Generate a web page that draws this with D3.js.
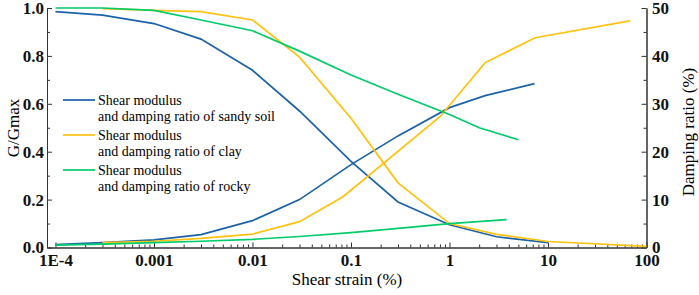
<!DOCTYPE html>
<html>
<head>
<meta charset="utf-8">
<script src="https://cdn.jsdelivr.net/npm/d3@7"></script>
<style>
  body { margin: 0; background: #fff; }
  svg { display: block; }
  .tick text { font-family: "Liberation Serif", "DejaVu Serif", serif; font-weight: bold; font-size: 17px; fill: #111; }
  .axis path, .axis line { stroke: #333; stroke-width: 1px; }
</style>
</head>
<body>
<div class="box"></div>
<script>
// strain values (%) and readings for each curve
const sandyStrainG = [1e-4, 3e-4, 1e-3, 3e-3, 1e-2, 3e-2, 0.1, 0.3, 1, 3, 10];
const sandyG = [0.985, 0.97, 0.935, 0.87, 0.74, 0.57, 0.36, 0.19, 0.095, 0.045, 0.02];
const sandyStrainD = [1e-4, 3e-4, 1e-3, 3e-3, 1e-2, 3e-2, 0.1, 0.3, 1, 2.3, 7.3];
const sandyD = [0.6, 1.0, 1.6, 2.7, 5.6, 10, 17.3, 23.3, 29.2, 31.7, 34.2];

const clayStrainG = [3e-4, 1e-3, 3e-3, 1e-2, 3e-2, 0.1, 0.3, 1, 3, 10, 100];
const clayG = [0.997, 0.99, 0.985, 0.95, 0.795, 0.54, 0.27, 0.1, 0.055, 0.025, 0.005];
const clayStrainD = [3e-4, 1e-3, 3e-3, 1e-2, 3e-2, 0.083, 0.8, 2.3, 7.4, 68];
const clayD = [1.0, 1.3, 1.9, 2.8, 5.4, 10.6, 27.3, 38.6, 43.8, 47.3];

const rockStrainG = [1e-4, 3e-4, 1e-3, 3e-3, 1e-2, 3e-2, 0.1, 0.3, 1, 2, 5];
const rockG = [1.0, 1.0, 0.99, 0.95, 0.905, 0.82, 0.72, 0.64, 0.555, 0.5, 0.45];
const rockStrainD = [1e-4, 3e-4, 1e-3, 3e-3, 1e-2, 3e-2, 0.1, 0.3, 1, 3.8];
const rockD = [0.5, 0.7, 1.0, 1.3, 1.7, 2.3, 3.1, 4.0, 5.0, 5.8];

const xMajor = [1e-4, 1e-3, 1e-2, 0.1, 1, 10, 100];
const xLabels = ["1E-4", "0.001", "0.01", "0.1", "1", "10", "100"];
const gTicks = [0, 0.2, 0.4, 0.6, 0.8, 1.0];
const dTicks = [0, 10, 20, 30, 40, 50];

const legendNames = ["sandy soil", "clay", "rocky"];
const colors = ["#1b62a8", "#ffc20e", "#00cc6a"];

// Plot box
const w = 699, h = 295;
const padLeft = 47, padRight = 646.5, padTop = 8, padBottom = 247.5;

const svg = d3.select(".box").append("svg")
  .attr("width", w)
  .attr("height", h);

const x = d3.scaleLog().domain([8.2e-5, 100]).range([padLeft, padRight]);
const yG = d3.scaleLinear().domain([0, 1]).range([padBottom, padTop]);
const yD = d3.scaleLinear().domain([0, 50]).range([padBottom, padTop]);

// minor ticks
const xMinor = [];
for (let e = -4; e < 2; e++) {
  for (let m = 2; m <= 9; m++) xMinor.push(m * Math.pow(10, e));
}
const gMinor = d3.range(0.1, 1, 0.2);
const dMinor = d3.range(5, 50, 10);

// AXES
svg.append("g").attr("class", "axis")
  .attr("transform", "translate(0," + padBottom + ")")
  .call(d3.axisBottom(x).tickValues(xMinor).tickSize(-3).tickSizeOuter(0).tickFormat(""));
svg.append("g").attr("class", "axis")
  .attr("transform", "translate(0," + padBottom + ")")
  .call(d3.axisBottom(x).tickValues(xMajor).tickSize(-5).tickSizeOuter(0).tickPadding(6)
    .tickFormat((d, i) => xLabels[i]));

svg.append("g").attr("class", "axis")
  .attr("transform", "translate(" + padLeft + ",0)")
  .call(d3.axisLeft(yG).tickValues(gMinor).tickSize(-3).tickSizeOuter(0).tickFormat(""));
svg.append("g").attr("class", "axis")
  .attr("transform", "translate(" + padLeft + ",0)")
  .call(d3.axisLeft(yG).tickValues(gTicks).tickSize(-5).tickSizeOuter(0).tickPadding(3)
    .tickFormat(d3.format(".1f")));

svg.append("g").attr("class", "axis")
  .attr("transform", "translate(" + padRight + ",0)")
  .call(d3.axisRight(yD).tickValues(dMinor).tickSize(-3).tickSizeOuter(0).tickFormat(""));
svg.append("g").attr("class", "axis")
  .attr("transform", "translate(" + padRight + ",0)")
  .call(d3.axisRight(yD).tickValues(dTicks).tickSize(-5).tickSizeOuter(0).tickPadding(5.5)
    .tickFormat(d3.format("d")));

// AXIS TITLES
const serif = '"Liberation Serif", "DejaVu Serif", serif';
svg.append("text")
  .attr("x", 347).attr("y", 285)
  .attr("text-anchor", "middle")
  .style("font-family", serif).style("font-size", "17px")
  .text("Shear strain (%)");

svg.append("text")
  .attr("transform", "translate(19,128) rotate(-90)")
  .attr("text-anchor", "middle")
  .style("font-family", serif).style("font-size", "17px")
  .text("G/Gmax");

svg.append("text")
  .attr("transform", "translate(694,132) rotate(-90)")
  .attr("text-anchor", "middle")
  .style("font-family", serif).style("font-size", "17px")
  .text("Damping ratio (%)");

// CURVES
const series = [
  { xs: sandyStrainG, ys: sandyG, s: yG, c: 0 },
  { xs: sandyStrainD, ys: sandyD, s: yD, c: 0 },
  { xs: clayStrainG, ys: clayG, s: yG, c: 1 },
  { xs: clayStrainD, ys: clayD, s: yD, c: 1 },
  { xs: rockStrainG, ys: rockG, s: yG, c: 2 },
  { xs: rockStrainD, ys: rockD, s: yD, c: 2 }
];

series.forEach(function(sr) {
  const line = d3.line()
    .x((d, i) => x(sr.xs[i]))
    .y(d => sr.s(d));
  svg.append("path")
    .datum(sr.ys)
    .attr("d", line)
    .attr("fill", "none")
    .attr("stroke", colors[sr.c])
    .attr("stroke-width", 1.7);
});

// LEGEND
const legend = svg.append("g");
legendNames.forEach(function(name, i) {
  const ly = 100 + i * 35;
  legend.append("line")
    .attr("x1", 63).attr("x2", 95)
    .attr("y1", ly).attr("y2", ly)
    .attr("stroke", colors[i]).attr("stroke-width", 1.7);
  legend.append("text")
    .attr("x", 98).attr("y", ly + 5)
    .style("font-family", serif).style("font-size", "14px")
    .text("Shear modulus");
  legend.append("text")
    .attr("x", 98).attr("y", ly + 21)
    .style("font-family", serif).style("font-size", "14px")
    .text("and damping ratio of " + name);
});
</script>
</body>
</html>
